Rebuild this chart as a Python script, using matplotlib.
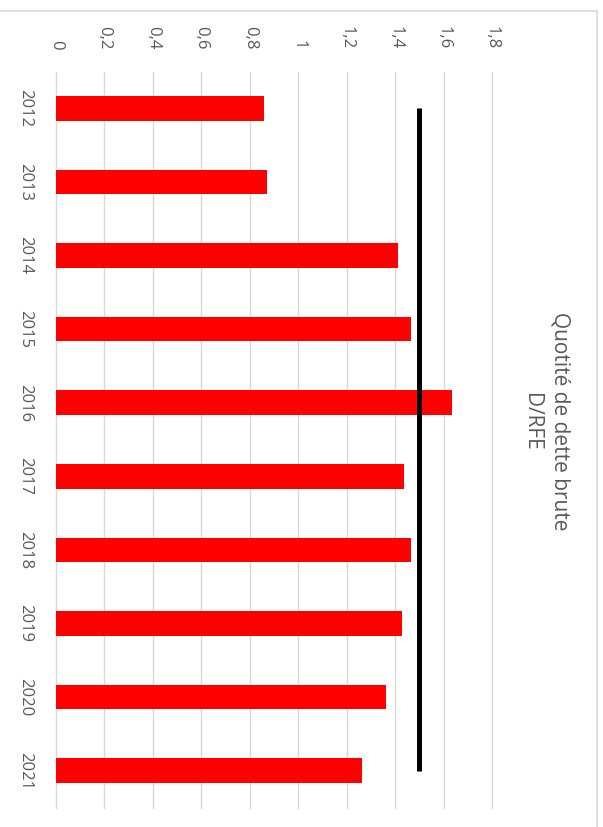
import matplotlib
matplotlib.use("Agg")
import matplotlib.pyplot as plt
from matplotlib.lines import Line2D
import numpy as np

# data (it is drawn rotated 90 degrees clockwise)
years = ["2012", "2013", "2014", "2015", "2016", "2017", "2018", "2019", "2020", "2021"]
quotite = [0.86, 0.873, 1.411, 1.467, 1.635, 1.438, 1.467, 1.43, 1.361, 1.262]
seuil = [1.5, 1.5, 1.5, 1.5, 1.5, 1.5, 1.5, 1.5, 1.5, 1.5]
x_ticks = [0.0, 0.2, 0.4, 0.6, 0.8, 1.0, 1.2, 1.4, 1.6, 1.8]
x_tick_labels = ["0", "0,2", "0,4", "0,6", "0,8", "1", "1,2", "1,4", "1,6", "1,8"]
title_lines = ["Quotité de dette brute", "D/RFE"]

TEXT_GREY = "#595959"
GRID_GREY = "#d9d9d9"

plt.rcParams["font.family"] = ["Open Sans", "DejaVu Sans"]

W, H = 603, 827
fig = plt.figure(figsize=(W / 100, H / 100), dpi=100)
fig.patch.set_facecolor("white")

# plot area in pixels: x 56..492, y 71.5..807.5
ax = fig.add_axes([56 / W, 1 - 807.5 / H, (492 - 56) / W, (807.5 - 71.5) / H])

pos = np.arange(len(years))
ax.barh(pos, quotite, height=0.333, color="#ff0000", zorder=3)
ax.plot(seuil, pos, color="black", lw=3.6, solid_capstyle="butt", zorder=4)

ax.set_xlim(0, 1.8)
ax.set_ylim(len(years) - 0.5, -0.5)
ax.xaxis.tick_top()
ax.set_xticks(x_ticks)
ax.set_xticklabels(x_tick_labels, rotation=-90, color=TEXT_GREY, fontsize=12)
ax.set_yticks(pos)
ax.set_yticklabels(years, rotation=-90, color=TEXT_GREY, fontsize=12, va="center")
ax.tick_params(axis="x", length=0, pad=16)
ax.tick_params(axis="y", length=0, pad=16.5)

ax.grid(axis="x", color=GRID_GREY, lw=1.0, zorder=0)
for gl in ax.get_xgridlines():
    gl.set_clip_on(False)
ax.set_axisbelow(True)
for s in ax.spines.values():
    s.set_visible(False)

# rotated title, first line on the right
fig.text(560 / W, 1 - 421 / H, title_lines[0], rotation=-90, ha="center", va="center",
         color=TEXT_GREY, fontsize=15)
fig.text(531 / W, 1 - 422 / H, title_lines[1], rotation=-90, ha="center", va="center",
         color=TEXT_GREY, fontsize=15)

# chart area border (only top and right edges fall inside the picture)
fig.add_artist(Line2D([0, 597 / W], [1 - 10.7 / H, 1 - 10.7 / H], transform=fig.transFigure,
                      color=GRID_GREY, lw=1.2))
fig.add_artist(Line2D([597 / W, 597 / W], [0, 1 - 10.7 / H], transform=fig.transFigure,
                      color=GRID_GREY, lw=1.2))

fig.savefig("out.png", dpi=100)
